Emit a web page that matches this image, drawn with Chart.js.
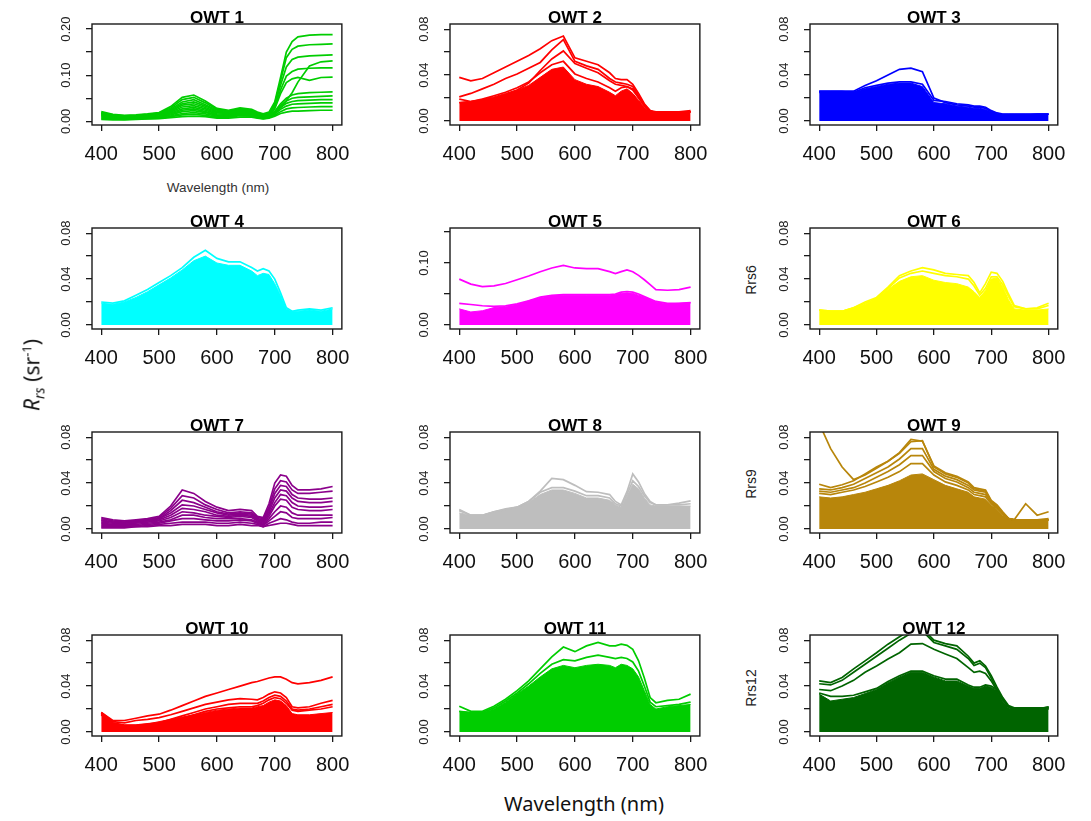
<!DOCTYPE html>
<html>
<head>
<meta charset="utf-8">
<script src="https://cdn.jsdelivr.net/npm/chart.js@4.4.1/dist/chart.umd.min.js"></script>
<style>
  body { margin: 0; background: #fff; }
  #page { position: relative; width: 1091px; height: 821px; overflow: hidden; background: #fff; }
  canvas { position: absolute; }
  .txt { position: absolute; white-space: nowrap; transform: translate(-50%, -50%); color: #222; }
  .rot { transform: translate(-50%, -50%) rotate(-90deg); }
</style>
</head>
<body>
<div id="page"></div>
<script>
// Rrs spectra per optical water type (sr^-1)
const WAVELENGTH = [400, 420, 440, 460, 480, 500, 520, 540, 560, 580, 600, 620, 640, 660, 670, 680, 690, 700, 710, 720, 730, 740, 760, 780, 800]
const X_TICKS = [400, 500, 600, 700, 800]
const X_TICK_LABELS = ['400', '500', '600', '700', '800']
const Y_TICKS_008 = [0, 0.02, 0.04, 0.06, 0.08]
const Y_LABELS_008 = ['0.00', '', '0.04', '', '0.08']
const Y_TICKS_020 = [0, 0.05, 0.10, 0.15, 0.20]
const Y_LABELS_020 = ['0.00', '', '0.10', '', '0.20']
const Y_TICKS_015 = [0, 0.05, 0.10, 0.15]
const Y_LABELS_015 = ['0.00', '', '0.10', '']

const OWT1_LINES = [
    [0.021,0.015,0.013,0.014,0.016,0.019,0.032,0.052,0.057,0.044,0.028,0.024,0.029,0.026,0.020,0.016,0.020,0.042,0.095,0.150,0.173,0.183,0.187,0.188,0.188],
    [0.019,0.014,0.012,0.013,0.015,0.018,0.029,0.047,0.052,0.040,0.026,0.022,0.027,0.024,0.018,0.014,0.018,0.038,0.088,0.138,0.156,0.163,0.166,0.167,0.168],
    [0.018,0.013,0.011,0.012,0.014,0.017,0.026,0.042,0.047,0.036,0.024,0.021,0.025,0.022,0.017,0.013,0.017,0.034,0.078,0.118,0.134,0.139,0.142,0.143,0.144],
    [0.017,0.012,0.010,0.011,0.013,0.016,0.024,0.038,0.042,0.033,0.022,0.019,0.023,0.021,0.016,0.012,0.014,0.020,0.030,0.045,0.062,0.085,0.120,0.129,0.131],
    [0.016,0.011,0.010,0.011,0.012,0.015,0.022,0.035,0.038,0.030,0.020,0.018,0.022,0.020,0.015,0.012,0.015,0.030,0.068,0.098,0.108,0.113,0.115,0.116,0.116],
    [0.015,0.010,0.009,0.010,0.011,0.014,0.020,0.031,0.034,0.027,0.018,0.017,0.021,0.019,0.014,0.011,0.014,0.027,0.060,0.084,0.092,0.095,0.089,0.095,0.096],
    [0.013,0.009,0.008,0.009,0.010,0.012,0.018,0.027,0.030,0.024,0.016,0.015,0.019,0.017,0.013,0.010,0.013,0.022,0.038,0.050,0.057,0.060,0.062,0.063,0.064],
    [0.012,0.008,0.007,0.008,0.009,0.011,0.016,0.024,0.027,0.021,0.014,0.013,0.017,0.016,0.012,0.009,0.012,0.020,0.034,0.044,0.050,0.052,0.053,0.054,0.055],
    [0.010,0.007,0.006,0.007,0.008,0.010,0.014,0.021,0.023,0.019,0.013,0.012,0.016,0.015,0.011,0.008,0.011,0.018,0.030,0.039,0.043,0.045,0.046,0.047,0.047],
    [0.008,0.006,0.005,0.006,0.007,0.009,0.012,0.017,0.019,0.016,0.011,0.010,0.014,0.013,0.010,0.007,0.010,0.016,0.026,0.033,0.037,0.038,0.039,0.040,0.040],
    [0.006,0.005,0.004,0.005,0.006,0.007,0.010,0.014,0.015,0.013,0.009,0.009,0.012,0.011,0.008,0.006,0.008,0.013,0.021,0.027,0.029,0.030,0.031,0.032,0.032],
    [0.004,0.003,0.003,0.004,0.005,0.006,0.008,0.010,0.011,0.010,0.007,0.007,0.009,0.009,0.007,0.005,0.007,0.011,0.017,0.020,0.022,0.022,0.023,0.024,0.024]
]

const OWT2_MASS = [0.016,0.017,0.019,0.021,0.024,0.027,0.031,0.038,0.045,0.047,0.036,0.032,0.030,0.025,0.022,0.026,0.028,0.024,0.018,0.012,0.008,0.007,0.007,0.008,0.008]
const OWT2_LINES = [
    [0.038,0.035,0.037,0.042,0.047,0.052,0.057,0.063,0.070,0.074,0.055,0.052,0.049,0.042,0.037,0.036,0.036,0.032,0.024,0.015,0.009,0.008,0.008,0.008,0.009],
    [0.021,0.024,0.028,0.032,0.037,0.041,0.046,0.051,0.062,0.071,0.052,0.048,0.045,0.037,0.034,0.033,0.032,0.030,0.022,0.014,0.009,0.007,0.007,0.008,0.008],
    [0.019,0.017,0.018,0.020,0.023,0.027,0.033,0.044,0.054,0.061,0.050,0.046,0.042,0.035,0.032,0.031,0.030,0.028,0.021,0.014,0.008,0.007,0.007,0.008,0.008],
    [0.016,0.017,0.019,0.022,0.025,0.029,0.034,0.042,0.049,0.052,0.041,0.037,0.034,0.029,0.026,0.029,0.030,0.027,0.020,0.013,0.008,0.007,0.007,0.008,0.008]
]

const OWT3_MASS = [0.026,0.026,0.026,0.025,0.028,0.030,0.032,0.033,0.033,0.030,0.016,0.015,0.013,0.012,0.011,0.011,0.010,0.008,0.006,0.006,0.006,0.006,0.006,0.006,0.006]
const OWT3_LINES = [
    [0.026,0.026,0.026,0.026,0.031,0.035,0.040,0.045,0.046,0.043,0.020,0.016,0.014,0.013,0.012,0.012,0.011,0.008,0.006,0.005,0.005,0.005,0.005,0.006,0.006],
    [0.025,0.025,0.025,0.025,0.029,0.031,0.033,0.034,0.034,0.032,0.018,0.017,0.015,0.014,0.013,0.013,0.012,0.009,0.007,0.006,0.006,0.006,0.006,0.006,0.006]
]

const OWT4_MASS = [0.019,0.018,0.020,0.024,0.029,0.035,0.041,0.048,0.056,0.060,0.054,0.052,0.052,0.047,0.043,0.045,0.044,0.036,0.026,0.014,0.012,0.012,0.013,0.012,0.014]
const OWT4_LINES = [
    [0.020,0.019,0.021,0.026,0.031,0.037,0.043,0.050,0.059,0.065,0.058,0.055,0.055,0.050,0.047,0.049,0.047,0.040,0.028,0.015,0.012,0.013,0.014,0.013,0.015]
]

const OWT5_MASS = [0.026,0.021,0.023,0.028,0.030,0.033,0.039,0.044,0.047,0.048,0.048,0.048,0.048,0.048,0.049,0.051,0.052,0.051,0.048,0.045,0.041,0.037,0.034,0.035,0.036]
const OWT5_LINES = [
    [0.074,0.066,0.062,0.063,0.067,0.073,0.079,0.086,0.092,0.096,0.092,0.091,0.091,0.086,0.083,0.086,0.089,0.086,0.080,0.073,0.065,0.057,0.056,0.057,0.061],
    [0.035,0.033,0.031,0.030,0.031,0.034,0.039,0.045,0.048,0.049,0.049,0.049,0.049,0.049,0.050,0.053,0.054,0.053,0.050,0.046,0.042,0.038,0.035,0.035,0.036]
]

const OWT6_MASS = [0.013,0.012,0.012,0.015,0.018,0.023,0.031,0.038,0.042,0.043,0.039,0.037,0.036,0.033,0.029,0.024,0.030,0.040,0.041,0.033,0.022,0.014,0.013,0.013,0.014]
const OWT6_LINES = [
    [0.013,0.012,0.012,0.015,0.020,0.024,0.033,0.043,0.047,0.050,0.048,0.045,0.044,0.043,0.037,0.028,0.036,0.046,0.045,0.038,0.027,0.017,0.014,0.015,0.019],
    [0.013,0.012,0.012,0.015,0.019,0.023,0.032,0.041,0.045,0.047,0.045,0.043,0.042,0.040,0.034,0.026,0.032,0.042,0.042,0.035,0.025,0.016,0.014,0.014,0.017]
]

const OWT7_LINES = [
    [0.010,0.008,0.007,0.008,0.009,0.011,0.020,0.034,0.031,0.024,0.019,0.016,0.017,0.016,0.011,0.010,0.022,0.040,0.047,0.046,0.038,0.034,0.034,0.035,0.037],
    [0.009,0.007,0.006,0.007,0.008,0.010,0.018,0.029,0.027,0.021,0.017,0.014,0.015,0.014,0.010,0.009,0.019,0.035,0.042,0.041,0.034,0.031,0.031,0.032,0.033],
    [0.008,0.006,0.006,0.007,0.008,0.009,0.016,0.025,0.023,0.019,0.015,0.013,0.014,0.013,0.009,0.008,0.017,0.031,0.038,0.037,0.030,0.027,0.026,0.026,0.027],
    [0.007,0.006,0.005,0.006,0.007,0.009,0.014,0.021,0.020,0.017,0.014,0.012,0.013,0.012,0.008,0.007,0.015,0.027,0.034,0.033,0.027,0.024,0.023,0.023,0.024],
    [0.006,0.005,0.005,0.006,0.007,0.008,0.012,0.018,0.017,0.015,0.012,0.011,0.012,0.011,0.008,0.006,0.013,0.023,0.030,0.029,0.023,0.020,0.019,0.019,0.020],
    [0.005,0.004,0.004,0.005,0.006,0.007,0.010,0.015,0.014,0.012,0.011,0.010,0.011,0.010,0.007,0.005,0.011,0.020,0.026,0.025,0.019,0.017,0.016,0.016,0.017],
    [0.004,0.004,0.004,0.004,0.005,0.006,0.008,0.012,0.012,0.010,0.009,0.009,0.009,0.008,0.006,0.004,0.009,0.015,0.020,0.019,0.014,0.012,0.012,0.012,0.012],
    [0.003,0.003,0.003,0.003,0.004,0.005,0.007,0.009,0.009,0.008,0.007,0.007,0.008,0.007,0.005,0.003,0.007,0.011,0.015,0.014,0.010,0.009,0.009,0.009,0.010],
    [0.002,0.002,0.002,0.002,0.003,0.004,0.005,0.006,0.006,0.006,0.005,0.005,0.006,0.005,0.004,0.002,0.005,0.007,0.009,0.008,0.006,0.005,0.005,0.006,0.006],
    [0.001,0.001,0.001,0.002,0.002,0.003,0.003,0.004,0.004,0.004,0.003,0.003,0.004,0.003,0.003,0.002,0.003,0.004,0.005,0.005,0.004,0.003,0.003,0.003,0.003]
]

const OWT8_MASS = [0.014,0.012,0.012,0.015,0.017,0.019,0.023,0.030,0.034,0.034,0.031,0.027,0.027,0.025,0.021,0.019,0.028,0.039,0.035,0.027,0.021,0.020,0.020,0.020,0.020]
const OWT8_LINES = [
    [0.017,0.012,0.012,0.015,0.0175,0.019,0.024,0.033,0.044,0.043,0.038,0.0325,0.032,0.030,0.024,0.021,0.0325,0.048,0.041,0.031,0.024,0.021,0.021,0.0225,0.0245],
    [0.016,0.012,0.012,0.015,0.017,0.019,0.024,0.032,0.036,0.036,0.033,0.029,0.029,0.027,0.022,0.020,0.030,0.042,0.037,0.029,0.023,0.021,0.021,0.021,0.022]
]

const OWT9_MASS = [0.028,0.027,0.028,0.030,0.032,0.035,0.038,0.042,0.047,0.048,0.043,0.038,0.035,0.032,0.028,0.027,0.026,0.021,0.017,0.012,0.009,0.008,0.008,0.008,0.008]
const OWT9_LINES = [
    [0.092,0.070,0.054,0.043,0.047,0.053,0.059,0.066,0.076,0.077,0.054,0.048,0.045,0.040,0.035,0.034,0.033,0.024,0.020,0.014,0.009,0.008,0.022,0.012,0.015],
    [0.039,0.036,0.0385,0.042,0.048,0.054,0.059,0.0665,0.078,0.0765,0.055,0.049,0.046,0.041,0.036,0.035,0.034,0.025,0.021,0.015,0.0094,0.008,0.008,0.008,0.009],
    [0.035,0.034,0.036,0.039,0.044,0.049,0.054,0.061,0.070,0.070,0.052,0.046,0.043,0.038,0.034,0.033,0.032,0.024,0.020,0.014,0.009,0.008,0.008,0.008,0.008],
    [0.033,0.032,0.034,0.036,0.040,0.045,0.050,0.056,0.064,0.064,0.050,0.044,0.041,0.036,0.032,0.031,0.030,0.023,0.019,0.014,0.009,0.008,0.008,0.008,0.008],
    [0.031,0.030,0.032,0.034,0.037,0.041,0.045,0.050,0.057,0.057,0.047,0.041,0.038,0.034,0.030,0.029,0.028,0.022,0.018,0.013,0.009,0.008,0.008,0.008,0.008]
]

const OWT10_MASS = [0.016,0.008,0.006,0.006,0.007,0.009,0.011,0.013,0.015,0.017,0.019,0.020,0.021,0.021,0.022,0.023,0.026,0.028,0.027,0.023,0.016,0.015,0.015,0.016,0.017]
const OWT10_LINES = [
    [0.017,0.010,0.010,0.012,0.014,0.0155,0.019,0.023,0.027,0.031,0.034,0.037,0.040,0.043,0.044,0.0455,0.047,0.048,0.048,0.046,0.043,0.042,0.043,0.045,0.048],
    [0.017,0.009,0.008,0.010,0.011,0.0125,0.015,0.018,0.021,0.024,0.026,0.028,0.029,0.0285,0.028,0.030,0.033,0.035,0.034,0.030,0.022,0.021,0.022,0.025,0.0275],
    [0.016,0.008,0.006,0.006,0.007,0.008,0.011,0.014,0.017,0.020,0.022,0.024,0.025,0.025,0.025,0.027,0.030,0.032,0.031,0.027,0.020,0.019,0.020,0.022,0.024],
    [0.015,0.007,0.005,0.004,0.005,0.006,0.009,0.012,0.015,0.018,0.020,0.021,0.022,0.022,0.023,0.025,0.028,0.030,0.029,0.025,0.019,0.018,0.019,0.020,0.022]
]

const OWT11_MASS = [0.018,0.017,0.017,0.020,0.026,0.033,0.040,0.048,0.055,0.058,0.056,0.058,0.059,0.058,0.056,0.059,0.058,0.055,0.048,0.036,0.024,0.020,0.022,0.023,0.024]
const OWT11_LINES = [
    [0.0225,0.018,0.018,0.0225,0.0285,0.036,0.0445,0.055,0.0655,0.074,0.070,0.075,0.078,0.075,0.075,0.0765,0.0755,0.072,0.062,0.047,0.030,0.0255,0.0275,0.0285,0.033],
    [0.018,0.017,0.017,0.021,0.027,0.034,0.042,0.051,0.059,0.063,0.062,0.065,0.067,0.065,0.064,0.065,0.064,0.061,0.053,0.040,0.026,0.022,0.023,0.024,0.026]
]

const OWT12_MASS = [0.033,0.027,0.0285,0.030,0.0335,0.037,0.043,0.048,0.052,0.052,0.048,0.0445,0.0445,0.040,0.038,0.038,0.040,0.039,0.036,0.027,0.021,0.020,0.020,0.020,0.022]
const OWT12_LINES = [
    [0.0445,0.043,0.0475,0.055,0.062,0.069,0.0765,0.083,0.089,0.090,0.080,0.077,0.075,0.066,0.060,0.062,0.0575,0.049,0.039,0.030,0.023,0.021,0.021,0.021,0.021],
    [0.042,0.041,0.045,0.052,0.059,0.066,0.073,0.080,0.086,0.088,0.078,0.075,0.072,0.064,0.058,0.060,0.056,0.047,0.037,0.029,0.022,0.020,0.020,0.020,0.021],
    [0.037,0.036,0.040,0.045,0.052,0.0575,0.0635,0.069,0.0765,0.077,0.072,0.068,0.064,0.056,0.052,0.053,0.051,0.0445,0.036,0.0285,0.022,0.020,0.020,0.020,0.020],
    [0.034,0.031,0.031,0.032,0.035,0.038,0.044,0.049,0.053,0.053,0.049,0.046,0.046,0.041,0.039,0.039,0.041,0.040,0.037,0.028,0.022,0.020,0.020,0.020,0.022]
]

// layout of the plot boxes (px in the page)
const COL_LEFT = [92, 450, 810]
const COL_WIDTH = [255, 255, 253]
const ROW_TOP = [24, 228, 432, 635]
const BOX_HEIGHT = 101
const AXIS_W = 50, TITLE_H = 22, XAXIS_H = 42, RIGHT_PAD = 14

const FONT = "'Liberation Sans', Arial, sans-serif"

const panels = [
    { title: 'OWT 1', color: '#00cd00', mass: null, lines: OWT1_LINES, yMin: -0.008, yMax: 0.211, yTicks: Y_TICKS_020, yLabels: Y_LABELS_020 },
    { title: 'OWT 2', color: '#ff0000', mass: OWT2_MASS, lines: OWT2_LINES, yMin: -0.0035, yMax: 0.0845, yTicks: Y_TICKS_008, yLabels: Y_LABELS_008 },
    { title: 'OWT 3', color: '#0000ff', mass: OWT3_MASS, lines: OWT3_LINES, yMin: -0.0035, yMax: 0.0845, yTicks: Y_TICKS_008, yLabels: Y_LABELS_008 },
    { title: 'OWT 4', color: '#00ffff', mass: OWT4_MASS, lines: OWT4_LINES, yMin: -0.0035, yMax: 0.0845, yTicks: Y_TICKS_008, yLabels: Y_LABELS_008 },
    { title: 'OWT 5', color: '#ff00ff', mass: OWT5_MASS, lines: OWT5_LINES, yMin: -0.0065, yMax: 0.1565, yTicks: Y_TICKS_015, yLabels: Y_LABELS_015 },
    { title: 'OWT 6', color: '#ffff00', mass: OWT6_MASS, lines: OWT6_LINES, yMin: -0.0035, yMax: 0.0845, yTicks: Y_TICKS_008, yLabels: Y_LABELS_008 },
    { title: 'OWT 7', color: '#8b008b', mass: null, lines: OWT7_LINES, yMin: -0.0035, yMax: 0.0845, yTicks: Y_TICKS_008, yLabels: Y_LABELS_008 },
    { title: 'OWT 8', color: '#bebebe', mass: OWT8_MASS, lines: OWT8_LINES, yMin: -0.0035, yMax: 0.0845, yTicks: Y_TICKS_008, yLabels: Y_LABELS_008 },
    { title: 'OWT 9', color: '#b8860b', mass: OWT9_MASS, lines: OWT9_LINES, yMin: -0.0035, yMax: 0.0845, yTicks: Y_TICKS_008, yLabels: Y_LABELS_008 },
    { title: 'OWT 10', color: '#ff0000', mass: OWT10_MASS, lines: OWT10_LINES, yMin: -0.0035, yMax: 0.0845, yTicks: Y_TICKS_008, yLabels: Y_LABELS_008 },
    { title: 'OWT 11', color: '#00cd00', mass: OWT11_MASS, lines: OWT11_LINES, yMin: -0.0035, yMax: 0.0845, yTicks: Y_TICKS_008, yLabels: Y_LABELS_008 },
    { title: 'OWT 12', color: '#006400', mass: OWT12_MASS, lines: OWT12_LINES, yMin: -0.0035, yMax: 0.0845, yTicks: Y_TICKS_008, yLabels: Y_LABELS_008 }
]

function toPoints(values) {
    return values.map((v, i) => ({ x: WAVELENGTH[i], y: v }))
}

// black frame round the plot region, like R's box()
const plotBox = {
    id: 'plotBox',
    afterDraw(chart) {
        const { ctx, chartArea: a } = chart
        ctx.save()
        ctx.strokeStyle = '#1a1a1a'
        ctx.lineWidth = 1.4
        ctx.strokeRect(a.left, a.top, a.right - a.left, a.bottom - a.top)
        ctx.restore()
    }
}

const page = document.getElementById('page')

panels.forEach((p, n) => {
    const col = n % 3
    const row = Math.floor(n / 3)
    const boxW = COL_WIDTH[col]
    const canvas = document.createElement('canvas')
    canvas.width = boxW + AXIS_W + RIGHT_PAD
    canvas.height = BOX_HEIGHT + TITLE_H + XAXIS_H
    canvas.style.left = (COL_LEFT[col] - AXIS_W) + 'px'
    canvas.style.top = (ROW_TOP[row] - TITLE_H) + 'px'
    page.appendChild(canvas)

    const datasets = p.lines.map(v => ({
        data: toPoints(v),
        borderColor: p.color,
        borderWidth: 1.7,
        pointRadius: 0,
        fill: false,
        order: 1
    }))
    if (p.mass) {
        datasets.push({
            data: toPoints(p.mass),
            borderColor: p.color,
            backgroundColor: p.color,
            borderWidth: 1,
            pointRadius: 0,
            fill: 'origin',
            order: 2
        })
    }

    new Chart(canvas.getContext('2d'), {
        type: 'line',
        data: { datasets: datasets },
        plugins: [plotBox],
        options: {
            responsive: false,
            animation: false,
            events: [],
            layout: { padding: { top: 0, left: 0, right: RIGHT_PAD, bottom: 0 } },
            plugins: {
                legend: { display: false },
                tooltip: { enabled: false },
                title: {
                    display: true,
                    text: p.title,
                    fullSize: false,
                    color: '#000',
                    font: { family: FONT, size: 17, weight: 'bold', lineHeight: 0.7 },
                    padding: { top: TITLE_H - 11.9, bottom: 0 }
                }
            },
            scales: {
                x: {
                    type: 'linear',
                    min: 384,
                    max: 816,
                    afterBuildTicks: axis => { axis.ticks = X_TICKS.map(v => ({ value: v })) },
                    afterFit: axis => { axis.height = XAXIS_H },
                    border: { display: false },
                    grid: { drawOnChartArea: false, drawTicks: true, tickLength: 6, color: '#1a1a1a', lineWidth: 1.3 },
                    ticks: {
                        autoSkip: false,
                        maxRotation: 0,
                        padding: 11,
                        color: '#111',
                        font: { family: FONT, size: 20 },
                        callback: (value, i) => X_TICK_LABELS[i]
                    }
                },
                y: {
                    type: 'linear',
                    min: p.yMin,
                    max: p.yMax,
                    afterBuildTicks: axis => { axis.ticks = p.yTicks.map(v => ({ value: v })) },
                    afterFit: axis => { axis.width = AXIS_W },
                    border: { display: false },
                    grid: { drawOnChartArea: false, drawTicks: true, tickLength: 6, color: '#1a1a1a', lineWidth: 1.3 },
                    ticks: {
                        autoSkip: false,
                        minRotation: 90,
                        maxRotation: 90,
                        crossAlign: 'center',
                        padding: 7,
                        color: '#222',
                        font: { family: FONT, size: 13 },
                        callback: (value, i) => p.yLabels[i]
                    }
                }
            }
        }
    })
})

// free text of the figure
function addText(html, x, y, style, rotated) {
    const d = document.createElement('div')
    d.className = rotated ? 'txt rot' : 'txt'
    d.innerHTML = html
    d.style.left = x + 'px'
    d.style.top = y + 'px'
    Object.assign(d.style, style)
    page.appendChild(d)
}

addText('Wavelength (nm)', 218, 187, { font: "13.5px " + FONT, color: '#333' })
addText('Rrs6', 751, 280, { font: "14px " + FONT }, true)
addText('Rrs9', 751, 484, { font: "14px " + FONT }, true)
addText('Rrs12', 751, 688, { font: "14px " + FONT }, true)
addText('<i>R</i><sub style="font-size:14px"><i>rs</i></sub> (sr<sup style="font-size:13px">-1</sup>)', 33, 375,
    { font: "21px 'Noto Sans', sans-serif", color: '#111' }, true)
addText('Wavelength (nm)', 584, 803, { font: "20px 'Noto Sans', sans-serif", color: '#111' })
</script>
</body>
</html>
